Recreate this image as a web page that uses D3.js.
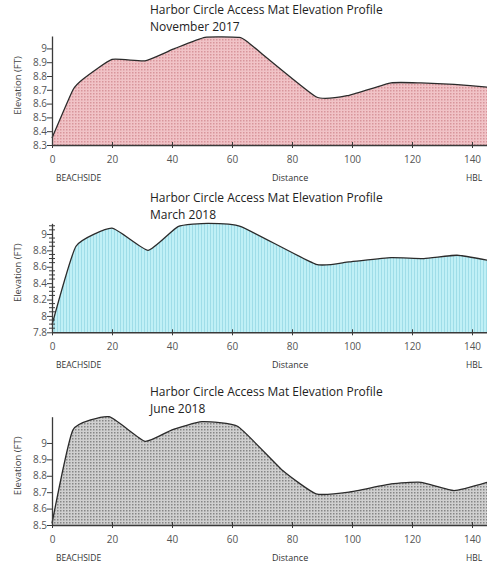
<!DOCTYPE html>
<html><head><meta charset="utf-8">
<script src="https://cdn.jsdelivr.net/npm/d3@7"></script>
<style>body{margin:0;background:#fff}svg{display:block}</style>
</head><body>
<script>
const titleText = "Harbor Circle Access Mat Elevation Profile";
const subtitles = ["November 2017", "March 2018", "June 2018"];
const xTicks = [0, 20, 40, 60, 80, 100, 120, 140];

const distNov = [0, 7, 10.5, 20, 31, 41, 51, 62, 65, 88, 99, 113, 123, 134, 145];
const elevNov = [8.35, 8.70, 8.78, 8.92, 8.91, 9.00, 9.08, 9.08, 9.05, 8.65, 8.66, 8.75, 8.75, 8.74, 8.72];
const distMar = [0, 8, 20, 32, 42, 52, 63, 88, 99, 113, 124, 135, 145];
const elevMar = [7.89, 8.85, 9.07, 8.80, 9.09, 9.13, 9.09, 8.63, 8.66, 8.71, 8.70, 8.74, 8.68];
const distJun = [0, 7, 19, 31, 40, 50, 62, 77, 88, 99, 113, 123, 134, 145];
const elevJun = [8.51, 9.08, 9.16, 9.01, 9.08, 9.13, 9.10, 8.83, 8.69, 8.70, 8.75, 8.76, 8.71, 8.76];

const yTicksNov = [8.3, 8.4, 8.5, 8.6, 8.7, 8.8, 8.9, 9];
const yTicksMar = [7.8, 8, 8.2, 8.4, 8.6, 8.8, 9];
const yMinorMar = [7.85, 7.9, 7.95, 8.05, 8.1, 8.15, 8.25, 8.3, 8.35, 8.45, 8.5, 8.55, 8.65, 8.7, 8.75, 8.85, 8.9, 8.95, 9.05, 9.1];
const yTicksJun = [8.5, 8.6, 8.7, 8.8, 8.9, 9];

const panels = [
  {dist: distNov, elev: elevNov, sub: subtitles[0], yTicks: yTicksNov, minor: [], yDom: [8.3, 9.09], top: 36, base: 145, titleY: 14, fill: "url(#pNov)"},
  {dist: distMar, elev: elevMar, sub: subtitles[1], yTicks: yTicksMar, minor: yMinorMar, yDom: [7.8, 9.13], top: 223.3, base: 332.3, titleY: 202, fill: "url(#pMar)"},
  {dist: distJun, elev: elevJun, sub: subtitles[2], yTicks: yTicksJun, minor: [], yDom: [8.5, 9.16], top: 416.7, base: 525, titleY: 396, fill: "url(#pJun)"}
];

const svg = d3.select("body").append("svg").attr("width", 487).attr("height", 563);
const defs = svg.append("defs");
function dotPattern(id, bg, dot) {
  const p = defs.append("pattern").attr("id", id).attr("patternUnits", "userSpaceOnUse").attr("width", 3).attr("height", 3);
  p.append("rect").attr("width", 3).attr("height", 3).attr("fill", bg);
  p.append("rect").attr("width", 1.5).attr("height", 1.5).attr("fill", dot);
}
dotPattern("pNov", "#f1c3c7", "#d8959b");
dotPattern("pJun", "#d0d0d0", "#868686");
{
  const p = defs.append("pattern").attr("id", "pMar").attr("patternUnits", "userSpaceOnUse").attr("width", 3).attr("height", 3);
  p.append("rect").attr("width", 3).attr("height", 3).attr("fill", "#c0f0f6");
  p.append("rect").attr("width", 1).attr("height", 3).attr("fill", "#9fdde8");
}

const font = "'Open Sans', Lato, sans-serif";
panels.forEach(P => {
  const x = d3.scaleLinear().domain([0, 145]).range([52, 487]);
  const y = d3.scaleLinear().domain(P.yDom).range([P.base, P.top]);
  const g = svg.append("g");
  const pts = P.dist.map((d, i) => [d, P.elev[i]]);
  const curve = d3.curveCardinal.tension(0.55);
  const area = d3.area().x(d => x(d[0])).y0(y(P.yDom[0])).y1(d => y(d[1])).curve(curve);
  const line = d3.line().x(d => x(d[0])).y(d => y(d[1])).curve(curve);
  g.append("path").attr("d", area(pts)).attr("fill", P.fill);
  g.append("path").attr("d", line(pts)).attr("fill", "none").attr("stroke", "#2b2b2b").attr("stroke-width", 1.3);

  // x axis
  const xa = g.append("g").attr("transform", `translate(0,${P.base})`)
    .call(d3.axisBottom(x).tickValues(xTicks).tickSize(4).tickSizeOuter(0));
  xa.select(".domain").attr("stroke", "#3a3a3a").attr("stroke-width", 1.5);
  xa.selectAll(".tick line").attr("stroke", "#3a3a3a").attr("y1", -3).attr("y2", 3);
  xa.selectAll("text").attr("font-family", font).attr("font-size", 10).attr("fill", "#555").attr("dy", "1.1em");

  // y axis
  const ya = g.append("g").attr("transform", "translate(52,0)")
    .call(d3.axisLeft(y).tickValues(P.yTicks).tickFormat(d3.format("")).tickSize(5).tickSizeOuter(0));
  ya.select(".domain").attr("stroke", "#3a3a3a").attr("stroke-width", 1.3);
  ya.selectAll(".tick line").attr("stroke", "#3a3a3a");
  ya.selectAll("text").attr("font-family", font).attr("font-size", 10).attr("fill", "#555").attr("x", -5);
  g.selectAll(".minor").data(P.minor).join("line").attr("class", "minor")
    .attr("x1", 49).attr("x2", 55).attr("y1", d => y(d)).attr("y2", d => y(d))
    .attr("stroke", "#3a3a3a").attr("stroke-width", 1);

  // titles
  g.append("text").attr("x", 150).attr("y", P.titleY).text(titleText)
    .attr("font-family", font).attr("font-size", 12).attr("fill", "#222");
  g.append("text").attr("x", 150).attr("y", P.titleY + 17).text(P.sub)
    .attr("font-family", font).attr("font-size", 12).attr("fill", "#222");

  // labels
  const ly = P.base + 36;
  g.append("text").attr("x", 56).attr("y", ly).text("BEACHSIDE")
    .attr("font-family", font).attr("font-size", 8.5).attr("fill", "#333");
  g.append("text").attr("x", 272).attr("y", ly).text("Distance")
    .attr("font-family", font).attr("font-size", 9).attr("fill", "#333");
  g.append("text").attr("x", 466).attr("y", ly).text("HBL")
    .attr("font-family", font).attr("font-size", 8.5).attr("fill", "#333");
  const cy = (P.top + P.base) / 2 - 5;
  g.append("text").attr("transform", `translate(21,${cy}) rotate(-90)`).attr("text-anchor", "middle")
    .text("Elevation (FT)").attr("font-family", font).attr("font-size", 9.5).attr("fill", "#444");
});
</script>
</body></html>
